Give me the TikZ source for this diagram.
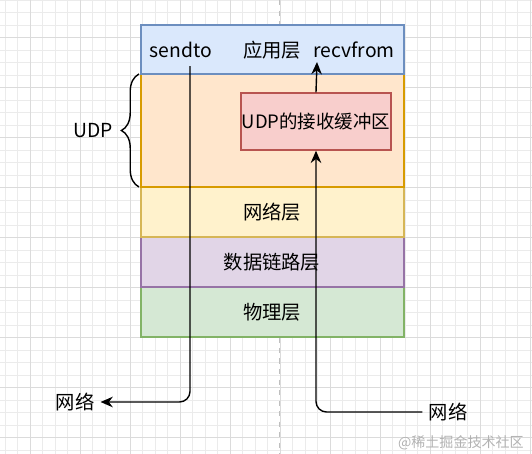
\documentclass[tikz,border=0pt]{standalone}
\usepackage{fontspec}
\setmainfont{Noto Sans CJK SC}
\usetikzlibrary{arrows.meta}
\usetikzlibrary{decorations.pathreplacing}

\definecolor{appfill}{HTML}{DAE8FC}
\definecolor{appline}{HTML}{6C8EBF}
\definecolor{udpfill}{HTML}{FFE6CC}
\definecolor{udpline}{HTML}{D79B00}
\definecolor{netfill}{HTML}{FFF2CC}
\definecolor{netline}{HTML}{D6B656}
\definecolor{linkfill}{HTML}{E1D5E7}
\definecolor{linkline}{HTML}{9673A6}
\definecolor{phyfill}{HTML}{D5E8D4}
\definecolor{phyline}{HTML}{82B366}
\definecolor{buffill}{HTML}{F8CECC}
\definecolor{bufline}{HTML}{B85450}

\begin{document}
\begin{tikzpicture}[
    x=0.02cm, y=-0.02cm,
    font=\fontsize{11}{13}\selectfont,
    layer/.style={draw, line width=0.8pt, minimum width=5.26cm, minimum height=1cm, inner sep=0pt, outer sep=0pt},
    flow/.style={line width=0.8pt, rounded corners=6pt},
    tip/.style={-{Stealth[length=7pt, width=6pt]}}
]
\useasboundingbox (0,0) rectangle (532,454);

% Define grid
\foreach \gx in {-7.5,5,...,532} \draw[black!8, line width=0.3pt] (\gx,0) -- (\gx,454);
\foreach \gy in {0,12.5,...,454} \draw[black!8, line width=0.3pt] (0,\gy) -- (532,\gy);
\foreach \gx in {30,80,...,530} \draw[black!14, line width=0.4pt] (\gx,0) -- (\gx,454);
\foreach \gy in {37,87,...,454} \draw[black!14, line width=0.4pt] (0,\gy) -- (532,\gy);
\draw[black!25, dashed, line width=0.4pt] (279,0) -- (279,454);

% Define layers
\node[layer, fill=phyfill, draw=phyline, anchor=north west] (phy) at (141,287) {};
\node[layer, fill=linkfill, draw=linkline, anchor=north west] (link) at (141,237) {};
\node[layer, fill=netfill, draw=netline, anchor=north west] (net) at (141,187) {};
\node[layer, fill=udpfill, draw=udpline, anchor=north west, minimum height=2.26cm] (udp) at (141,74) {};
\node[layer, fill=appfill, draw=appline, anchor=north west, minimum height=0.98cm] (app) at (141,25) {};

% Define labels
\node (appname) at (272,50) {应用层};
\node (sendto) at (181,50) {sendto};
\node (recvfrom) at (354,50) {recvfrom};
\node (netname) at (272,212) {网络层};
\node (linkname) at (272,262) {数据链路层};
\node (phyname) at (272,312) {物理层};
\node[draw=bufline, fill=buffill, line width=0.8pt, minimum width=3cm, minimum height=1.14cm, inner sep=0pt, font=\fontsize{10.5}{12}\selectfont] (buf) at (316,121.5) {UDP的接收缓冲区};
\node (udpname) at (93,131) {UDP};
\node (netleft) at (75,402) {网络};
\node (netright) at (448,412) {网络};
\node[text=black!30, font=\fontsize{8}{10}\selectfont, anchor=east] (mark) at (530,443) {@稀土掘金技术社区};

% Define connectors
\coordinate (sendtop) at (190,66);
\coordinate (recvtop) at (317,62);
\draw[flow, tip] (sendtop) |- (netleft.east);
\draw[flow, tip] (netright.west) -| (buf.south);
\draw[line width=0.8pt, tip] (buf.north) -- (recvtop);
\draw[decorate, decoration={brace, amplitude=10pt}, line width=0.8pt] (udp.south west) ++(-2,0) -- ([xshift=-0.04cm]udp.north west);
\end{tikzpicture}
\end{document}
